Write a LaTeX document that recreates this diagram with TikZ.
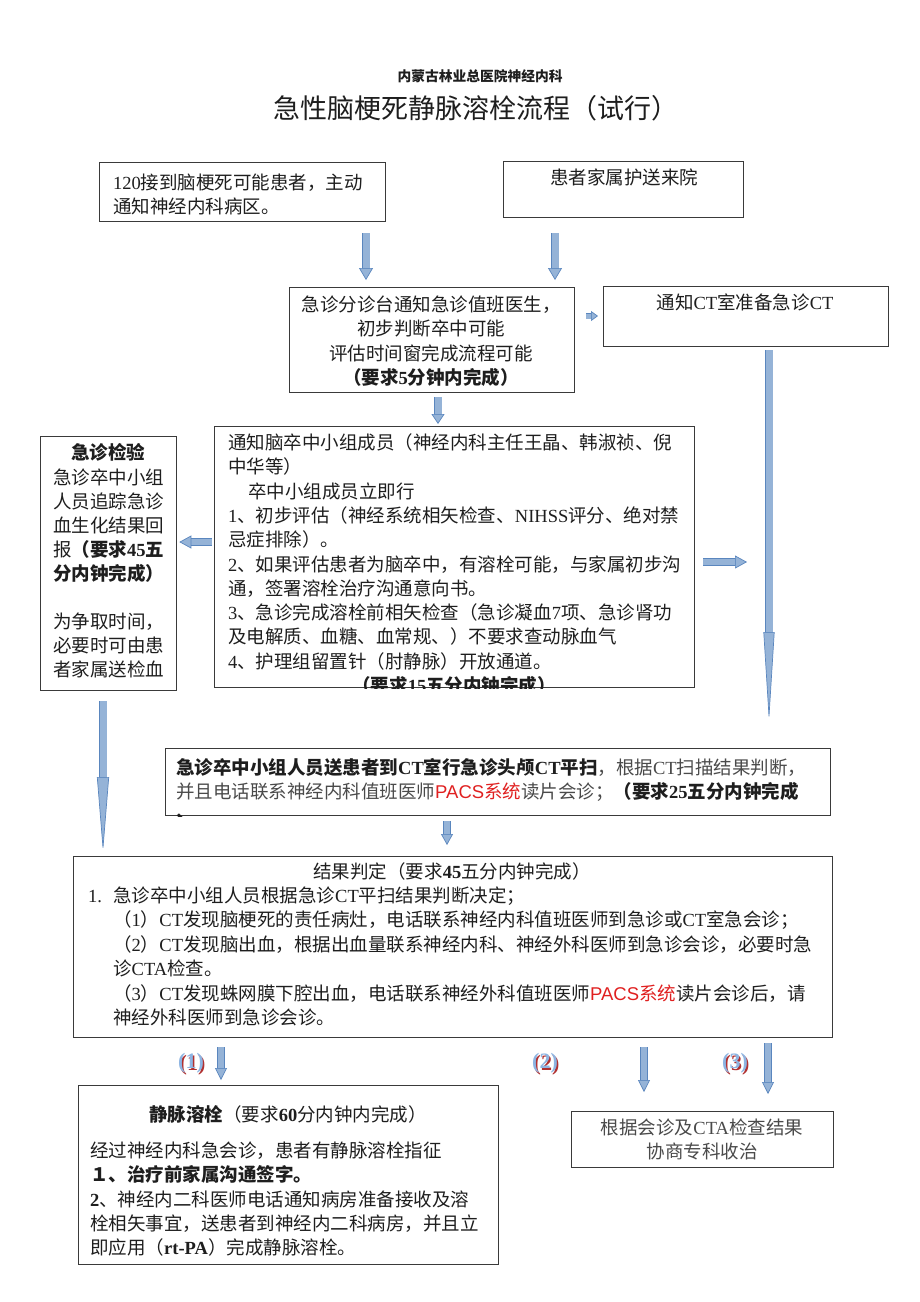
\documentclass[tikz,border=0pt]{standalone}
\usepackage{fontspec}
\setmainfont{Noto Sans CJK SC}
\newfontfamily\tms{Liberation Serif}
\newfontfamily\arl{Liberation Sans}
\usetikzlibrary{arrows.meta}
\definecolor{afill}{HTML}{95B3D7}
\definecolor{aline}{HTML}{5A86BE}
\definecolor{boxline}{HTML}{3A3A3A}
\definecolor{textc}{HTML}{1E1E1E}
\definecolor{grayt}{HTML}{4A4A4A}
\definecolor{pacsred}{HTML}{E02020}
\definecolor{labred}{HTML}{B03030}
\definecolor{labblue}{HTML}{8DB4E2}
\newcommand\tm[1]{{\tms #1}}
\newcommand\fsz[2]{\fontsize{#1}{#2}\selectfont}
\newcommand\pacs{\textcolor{pacsred}{{\arl PACS}系统}}
\begin{document}
\begin{tikzpicture}[x=1pt,y=-1pt,
  box/.style={draw=boxline, line width=1.3pt, inner sep=0pt, anchor=north west},
  txt/.style={inner sep=0pt, align=left, anchor=base west, text=textc, font=\fsz{18.5}{24.3}},
  ctxt/.style={txt, align=center, anchor=base},
  blk/.style n args={3}{line width=#1, draw=afill,
    -{Triangle[width=#2,length=#3,line width=0.7pt,color=aline,fill=afill]},
    preaction={draw=aline, line width=#1+1.4pt, arrows=-, shorten >=#3-1pt}},
  lab/.style={inner sep=0pt, anchor=base, font=\fsz{22}{22}\tms\bfseries}
]
\fill[white] (0,0) rectangle (920,1302);
\useasboundingbox (0,0) rectangle (920,1302);

% header and title
\node[ctxt, font=\fsz{13.75}{16}\bfseries] (hdr) at (480,81) {内蒙古林业总医院神经内科};
\node[ctxt, font=\fsz{27}{30}] (title) at (476,118) {急性脑梗死静脉溶栓流程（试行）};

% boxes
\node[box, minimum width=286pt, minimum height=59pt] (A) at (99,162) {};
\node[box, minimum width=240pt, minimum height=56pt] (B) at (503,161) {};
\node[box, minimum width=285pt, minimum height=105pt] (C) at (289,287) {};
\node[box, minimum width=285pt, minimum height=60pt] (D) at (603,286) {};
\node[box, minimum width=480pt, minimum height=261pt] (E) at (214,426) {};
\node[box, minimum width=136pt, minimum height=254pt] (G) at (40,436) {};
\node[box, minimum width=665pt, minimum height=67pt] (F) at (165,748) {};
\node[box, minimum width=759pt, minimum height=181pt] (H) at (73,856) {};
\node[box, minimum width=420pt, minimum height=179pt] (I) at (78,1085) {};
\node[box, minimum width=262pt, minimum height=56pt] (J) at (571,1111) {};

% texts (multi-line nodes: base anchor = last line baseline)
\node[txt] (tA) at (113,213.8) {\tm{120}接到脑梗死可能患者，主动\\通知神经内科病区。};
\node[ctxt] (tB) at (624,184.5) {患者家属护送来院};
\node[ctxt] (tC) at (431,384.4) {急诊分诊台通知急诊值班医生，\\初步判断卒中可能\\评估时间窗完成流程可能\\{\bfseries（要求\tm{5}分钟内完成）}};
\node[ctxt] (tD) at (745,309.5) {通知\tm{CT}室准备急诊\tm{CT}};

\begin{scope}
\clip (E.north west) rectangle (E.south east);
\node[txt] (tE) at (228,668.2) {通知脑卒中小组成员（神经内科主任王晶、韩淑祯、倪\\
中华等）\\
\hspace*{20pt}卒中小组成员立即行\\
\tm{1}、初步评估（神经系统相矢检查、\tm{NIHSS}评分、绝对禁\\
忌症排除）。\\
\tm{2}、如果评估患者为脑卒中，有溶栓可能，与家属初步沟\\
通，签署溶栓治疗沟通意向书。\\
\tm{3}、急诊完成溶栓前相矢检查（急诊凝血\tm{7}项、急诊肾功\\
及电解质、血糖、血常规、）不要求查动脉血气\\
\tm{4}、护理组留置针（肘静脉）开放通道。};
\node[ctxt, font=\fsz{18.5}{24.3}\bfseries] (tE2) at (454,692) {（要求\tm{15}五分内钟完成）};
\end{scope}

\node[ctxt, font=\fsz{18.5}{24.3}\bfseries] (tG1) at (108,459.5) {急诊检验};
\node[txt, font=\fsz{18.5}{24}] (tG) at (53,676.5) {急诊卒中小组\\人员追踪急诊\\血生化结果回\\报{\bfseries（要求\tm{45}五}\\{\bfseries 分内钟完成）}\\[24pt]为争取时间，\\必要时可由患\\者家属送检血};

\begin{scope}
\clip (F.north west) rectangle (F.south east);
\node[txt] (tF) at (176,798.8) {{\bfseries 急诊卒中小组人员送患者到\tm{CT}室行急诊头颅\tm{CT}平扫}{\color{grayt}，根据\tm{CT}扫描结果判断，}\\
{\color{grayt}并且电话联系神经内科值班医师}\pacs{\color{grayt}读片会诊；}{\bfseries（要求\tm{25}五分内钟完成}};
\node[txt, font=\fsz{18.5}{24.3}\bfseries] (tF2) at (176,818) {、};
\end{scope}

\node[ctxt] (tH1) at (452,878.5) {结果判定（要求{\bfseries\tm{45}}五分内钟完成）};
\node[txt] (tHn) at (88,902.5) {\tm{1.}};
\node[txt, font=\fsz{18.5}{24.4}] (tH) at (113,1024.5) {急诊卒中小组人员根据急诊\tm{CT}平扫结果判断决定；\\
（\tm{1}）\tm{CT}发现脑梗死的责任病灶，电话联系神经内科值班医师到急诊或\tm{CT}室急会诊；\\
（\tm{2}）\tm{CT}发现脑出血，根据出血量联系神经内科、神经外科医师到急诊会诊，必要时急\\
诊\tm{CTA}检查。\\
（\tm{3}）\tm{CT}发现蛛网膜下腔出血，电话联系神经外科值班医师\pacs{}读片会诊后，请\\
神经外科医师到急诊会诊。};

\node[ctxt] (tI1) at (288,1121.5) {{\bfseries 静脉溶栓}（要求{\bfseries\tm{60}}分内钟内完成）};
\node[txt] (tI) at (90,1254.7) {经过神经内科急会诊，患者有静脉溶栓指征\\
{\bfseries １、治疗前家属沟通签字。}\\
{\bfseries\tm{2}}、神经内二科医师电话通知病房准备接收及溶\\
栓相矢事宜，送患者到神经内二科病房，并且立\\
即应用（{\bfseries\tm{rt-PA}}）完成静脉溶栓。};
\node[ctxt, text=grayt] (tJ) at (702,1158.8) {根据会诊及\tm{CTA}检查结果\\协商专科收治};

% labels
\node[lab, text=labred] (L1s) at (192.5,1070) {(1)};
\node[lab, text=labblue] (L1) at (191,1068.5) {(1)};
\node[lab, text=labred] (L2s) at (546.5,1070) {(2)};
\node[lab, text=labblue] (L2) at (545,1068.5) {(2)};
\node[lab, text=labred] (L3s) at (736.5,1070) {(3)};
\node[lab, text=labblue] (L3) at (735,1068.5) {(3)};

% arrow helper coordinates
\coordinate (xA) at (366,0);
\coordinate (xB) at (555,0);
\coordinate (xCE) at (438,0);
\coordinate (xD) at (769,0);
\coordinate (xG) at (103,0);
\coordinate (xF) at (447,0);
\coordinate (x1) at (221,0);
\coordinate (x2) at (644,0);
\coordinate (x3) at (768,0);
\coordinate (yCD) at (0,316);
\coordinate (yEG) at (0,542);
\coordinate (rj) at (747,562);

% arrows
\draw[blk={7pt}{14pt}{12pt}] ([yshift=-11pt]A.south -| xA) -- ([yshift=7pt]C.north -| xA);
\draw[blk={7pt}{14pt}{12pt}] ([yshift=-15pt]B.south -| xB) -- ([yshift=7pt]C.north -| xB);
\draw[blk={5pt}{10pt}{7pt}] ([xshift=11pt]C.east |- yCD) -- ([xshift=-5pt]D.west |- yCD);
\draw[blk={7pt}{13pt}{10pt}] ([yshift=-4pt]C.south -| xCE) -- ([yshift=2pt]E.north -| xCE);
\draw[blk={6pt}{13pt}{12pt}] ([xshift=-2pt]E.west |- yEG) -- ([xshift=2pt]G.east |- yEG);
\draw[blk={6pt}{13pt}{12pt}] ([xshift=8pt]E.east |- rj) -- (rj);
\draw[blk={7pt}{11pt}{90pt}] ([yshift=-3pt]D.south -| xD) -- ([yshift=26pt]F.north -| xD);
\draw[blk={7pt}{12pt}{75pt}] ([yshift=-10pt]G.south -| xG) -- ([yshift=4pt]H.north -| xG);
\draw[blk={6pt}{12pt}{11pt}] ([yshift=-5pt]F.south -| xF) -- ([yshift=11pt]H.north -| xF);
\draw[blk={6pt}{12pt}{12pt}] ([yshift=-9pt]H.south -| x1) -- ([yshift=5pt]I.north -| x1);
\draw[blk={6pt}{12pt}{12pt}] ([yshift=-9pt]H.south -| x2) -- ([yshift=19pt]J.north -| x2);
\draw[blk={6pt}{12pt}{12pt}] ([yshift=-5pt]H.south -| x3) -- ([yshift=17pt]J.north -| x3);
\end{tikzpicture}
\end{document}
